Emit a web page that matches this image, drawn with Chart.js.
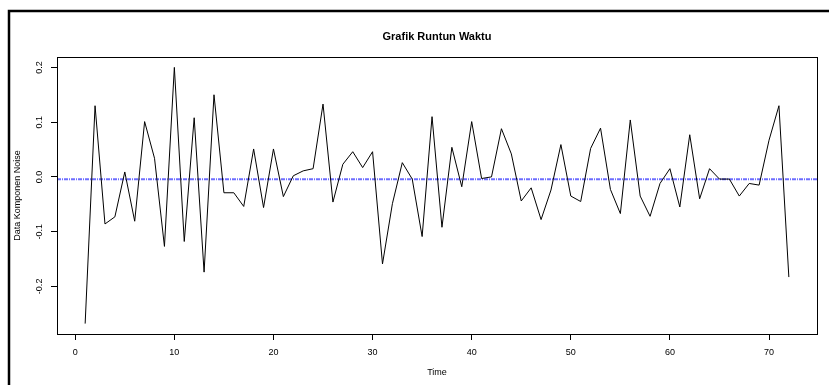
<!DOCTYPE html>
<html>
<head>
<meta charset="utf-8">
<title>Grafik Runtun Waktu</title>
<script src="https://cdn.jsdelivr.net/npm/chart.js@4.4.1/dist/chart.umd.min.js"></script>
<style>
  html, body { margin: 0; padding: 0; background: #fff; }
  canvas { display: block; }
</style>
</head>
<body>
<canvas id="noiseChart" width="829" height="385"></canvas>
<script>
// --- data ---
const timeIndex = Array.from({ length: 72 }, (_, i) => i + 1);
const noiseValues = [
  -0.268, 0.130, -0.086, -0.073, 0.009, -0.081, 0.101, 0.034, -0.127, 0.200,
  -0.118, 0.108, -0.174, 0.150, -0.029, -0.029, -0.054, 0.051, -0.056, 0.051,
  -0.036, 0.002, 0.011, 0.015, 0.133, -0.046, 0.023, 0.046, 0.017, 0.046,
  -0.159, -0.049, 0.026, -0.004, -0.109, 0.110, -0.092, 0.054, -0.018, 0.101,
  -0.003, 0.000, 0.088, 0.042, -0.044, -0.020, -0.078, -0.024, 0.059, -0.035,
  -0.045, 0.052, 0.089, -0.023, -0.067, 0.104, -0.035, -0.072, -0.012, 0.015,
  -0.055, 0.077, -0.040, 0.015, -0.004, -0.004, -0.035, -0.012, -0.015, 0.067,
  0.130, -0.183
];
const meanLevel = -0.0043;
const xTicks = [0, 10, 20, 30, 40, 50, 60, 70];
const yTicks = [-0.2, -0.1, 0.0, 0.1, 0.2];
const xRange = [-1.84, 74.84];
const yRange = [-0.287, 0.219];

const FONT = '"Liberation Sans", Arial, Helvetica, sans-serif';

// frame, title, axis titles and rotated y labels (R base-graphics look)
const rDecor = {
  id: 'rDecor',
  afterDraw(chart) {
    const { ctx, chartArea: a, scales } = chart;
    ctx.save();
    // outer frame
    ctx.strokeStyle = '#000';
    ctx.lineWidth = 2.5;
    ctx.strokeRect(9, 11, 840, 400);
    // plot box
    ctx.lineWidth = 1;
    ctx.strokeRect(Math.round(a.left) + 0.5, Math.round(a.top) + 0.5,
      Math.round(a.right - a.left), Math.round(a.bottom - a.top));

    const cx = (a.left + a.right) / 2;
    ctx.fillStyle = '#000';
    ctx.textAlign = 'center';
    ctx.textBaseline = 'middle';
    ctx.font = 'bold 11px ' + FONT;
    ctx.fillText('Grafik Runtun Waktu', cx, 37);

    ctx.font = '9px ' + FONT;
    ctx.fillText('Time', cx, 373);

    ctx.save();
    ctx.translate(18, (a.top + a.bottom) / 2);
    ctx.rotate(-Math.PI / 2);
    ctx.fillText('Data Komponen Noise', 0, 0);
    ctx.restore();

    // y tick labels, rotated like R (las = 0)
    ctx.font = '9px ' + FONT;
    yTicks.forEach(v => {
      const py = scales.y.getPixelForValue(v);
      ctx.save();
      ctx.translate(40, py);
      ctx.rotate(-Math.PI / 2);
      ctx.fillText(v.toFixed(1), 0, 0);
      ctx.restore();
    });
    ctx.restore();
  }
};

new Chart(document.getElementById('noiseChart').getContext('2d'), {
  type: 'scatter',
  data: {
    datasets: [
      {
        label: 'Noise',
        data: timeIndex.map((t, i) => ({ x: t, y: noiseValues[i] })),
        showLine: true,
        borderColor: '#000',
        borderWidth: 1,
        pointRadius: 0,
        tension: 0
      },
      {
        label: 'Mean',
        data: xRange.map(x => ({ x: x, y: meanLevel })),
        showLine: true,
        borderColor: 'rgba(60,60,255,0.75)',
        borderWidth: 1.8,
        borderDash: [4, 1, 1, 1],
        pointRadius: 0
      }
    ]
  },
  options: {
    responsive: false,
    animation: false,
    clip: 0,
    layout: { padding: { left: 0, right: 12, top: 57, bottom: 0 } },
    plugins: {
      legend: { display: false },
      tooltip: { enabled: false }
    },
    scales: {
      x: {
        type: 'linear',
        min: xRange[0],
        max: xRange[1],
        afterFit: s => { s.height = 51; },
        afterBuildTicks: s => { s.ticks = xTicks.map(v => ({ value: v })); },
        border: { display: false },
        grid: {
          drawOnChartArea: false,
          drawTicks: true,
          tickLength: 6,
          tickColor: '#000'
        },
        ticks: {
          color: '#000',
          font: { family: FONT, size: 9 },
          padding: 7,
          maxRotation: 0,
          callback: v => String(v)
        }
      },
      y: {
        type: 'linear',
        min: yRange[0],
        max: yRange[1],
        afterFit: s => { s.width = 57; },
        afterBuildTicks: s => { s.ticks = yTicks.map(v => ({ value: v })); },
        border: { display: false },
        grid: {
          drawOnChartArea: false,
          drawTicks: true,
          tickLength: 6,
          tickColor: '#000'
        },
        ticks: { display: false }
      }
    }
  },
  plugins: [rDecor]
});
</script>
</body>
</html>
